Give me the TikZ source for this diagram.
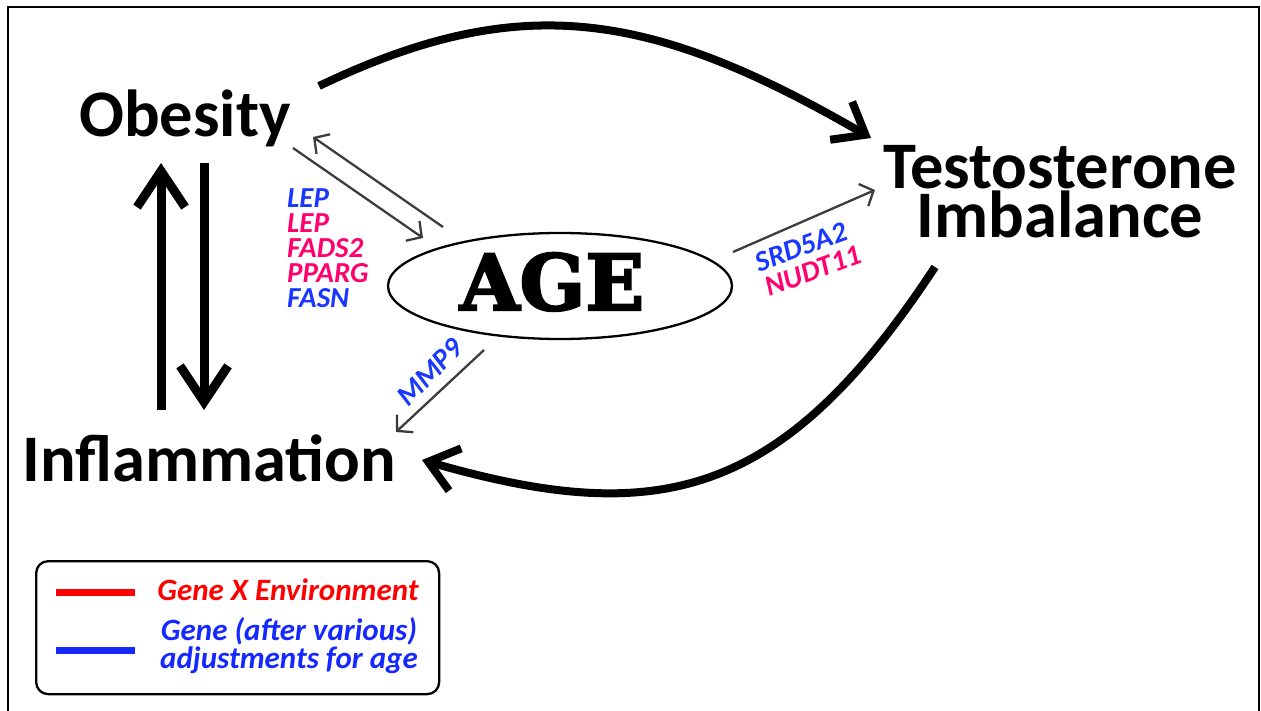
\documentclass[tikz,border=0pt]{standalone}
\usepackage{fontspec}
\setmainfont{Carlito}
\newfontfamily\agefont{DejaVu Serif}[BoldFeatures={FakeBold=3}]
\usetikzlibrary{arrows.meta,shapes.geometric}
\definecolor{gblue}{RGB}{25,55,255}
\definecolor{gpink}{RGB}{255,0,110}
\definecolor{lred}{RGB}{255,0,0}
\definecolor{lblue}{RGB}{20,40,255}
\definecolor{thingray}{RGB}{60,60,60}
\begin{document}
\begin{tikzpicture}[x=1pt,y=-1pt,
 big/.style={font=\bfseries\fontsize{66.5}{49}\selectfont, inner sep=0pt, anchor=base},
 gene/.style={font=\bfseries\itshape\fontsize{29}{25}\selectfont, inner sep=0pt},
 legtext/.style={font=\bfseries\itshape\fontsize{31}{24}\selectfont, inner sep=0pt, anchor=base},
 thinarrow/.style={draw=thingray, line width=2.3pt, -{Straight Barb[length=11pt,width=24pt]}},
 bigarrow/.style={line width=8pt, -{Straight Barb[length=28pt,width=44pt]}},
 vertarrow/.style={line width=9pt, -{Straight Barb[length=36pt,width=48pt]}},
]
\useasboundingbox (0,0) rectangle (1261,711);
\draw[line width=2pt] (8,711) -- (8,7) -- (1259,7) -- (1259,711);

\node[big] (obesity) at (185,137) {Obesity};
\node[big, align=center] (testo) at (1060,238) {Testosterone\\Imbalance};
\node[big] (inflam) at (209,481) {Inflammation};

\node[draw, ellipse, line width=2.3pt, minimum width=344pt, minimum height=106pt, inner sep=0pt] (age) at (560,286) {};
\node[font=\agefont\bfseries\fontsize{77}{77}\selectfont, anchor=base, inner sep=0pt] (agetxt) at (552,310) {AGE};

\coordinate (oa1) at (293,148); \coordinate (oa2) at (423,238);
\coordinate (ao1) at (443,227); \coordinate (ao2) at (313,137);
\coordinate (at1) at (733,252); \coordinate (at2) at (875,190);
\coordinate (ai1) at (484,350); \coordinate (ai2) at (396,432);
\draw[thinarrow] (oa1) -- (oa2);
\draw[thinarrow] (ao1) -- (ao2);
\draw[thinarrow] (at1) -- (at2);
\draw[thinarrow] (ai1) -- (ai2);

\node[gene, align=left, anchor=base west] (genes) at (287,308)
 {\textcolor{gblue}{LEP}\\\textcolor{gpink}{LEP}\\\textcolor{gpink}{FADS2}\\\textcolor{gpink}{PPARG}\\\textcolor{gblue}{FASN}};
\node[gene, text=gblue, rotate=20] (srd) at (801,247) {SRD5A2};
\node[gene, text=gpink, rotate=20] (nudt) at (813,271) {NUDT11};
\node[gene, text=gblue, rotate=45] (mmp) at (430,372) {MMP9};

\coordinate (ot1) at (319,86); \coordinate (ot2) at (871,138);
\coordinate (ti1) at (935,267); \coordinate (ti2) at (422,460);
\draw[bigarrow] (ot1) .. controls (520,-10) and (650,10) .. (ot2);
\draw[bigarrow] (ti1) .. controls (782,500) and (658,528) .. (ti2);

\coordinate (up1) at (161,410); \coordinate (up2) at (161,163);
\coordinate (dn1) at (204,163); \coordinate (dn2) at (204,410);
\draw[vertarrow] (up1) -- (up2);
\draw[vertarrow] (dn1) -- (dn2);

\node[draw, rounded corners=12pt, line width=2.3pt, minimum width=403pt, minimum height=133pt, anchor=north west, inner sep=0pt] (legend) at (35,560) {};
\draw[lred, line width=7pt] (56,592) -- (135,592);
\draw[lblue, line width=7pt] (56,650) -- (135,650);
\node[legtext, text=lred] (lg1) at (288,600) {Gene X Environment};
\node[legtext, text=lblue, align=center] (lg2) at (289,668) {Gene (after various)\\adjustments for age};
\end{tikzpicture}
\end{document}
